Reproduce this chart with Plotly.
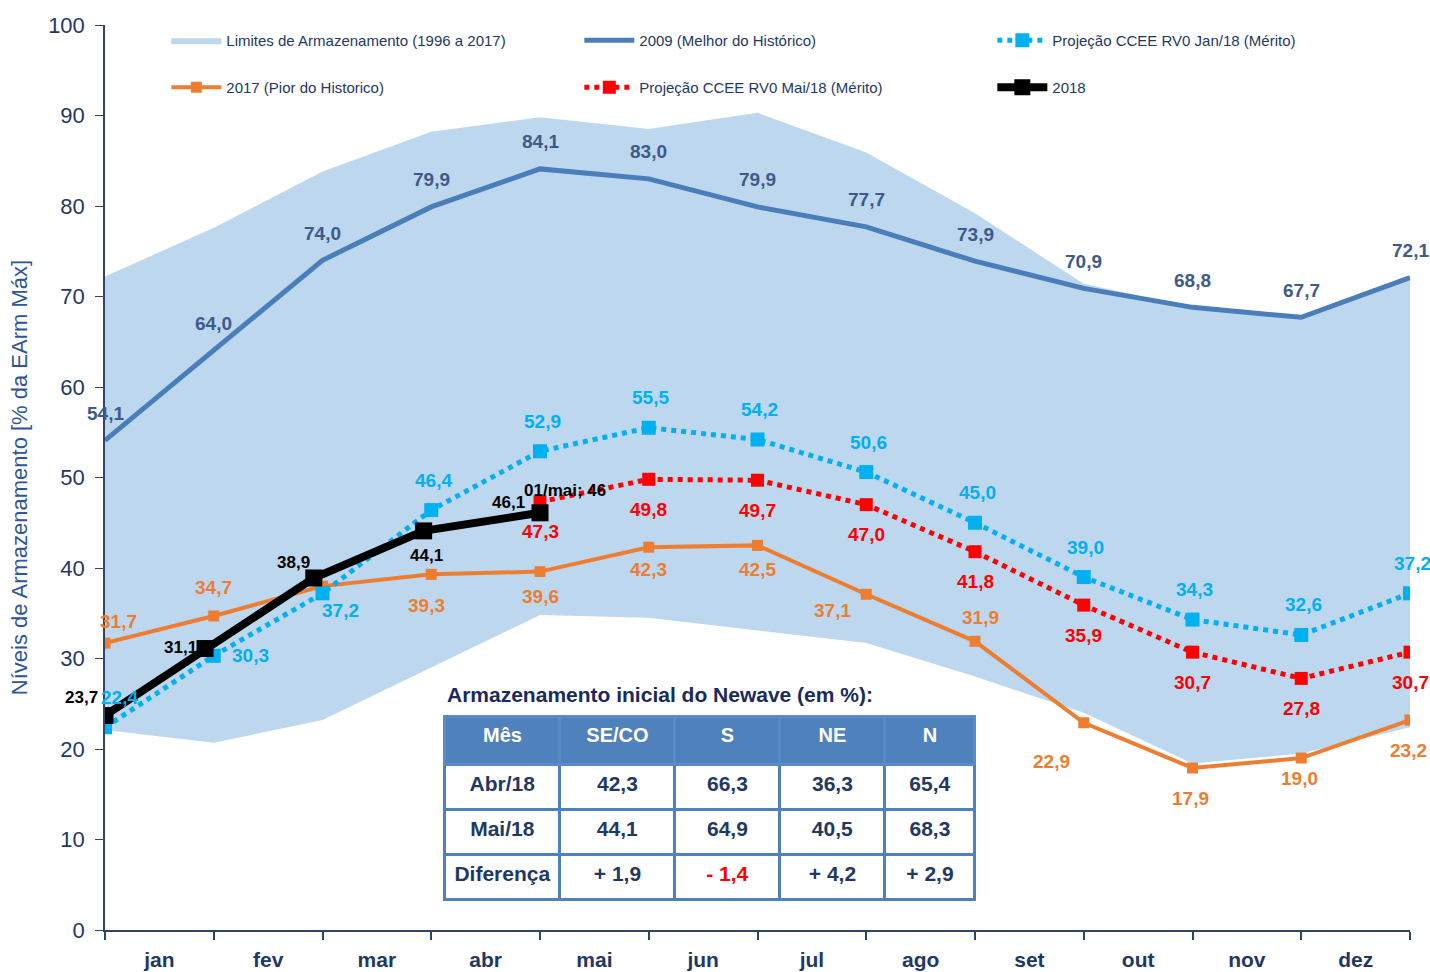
import plotly.graph_objects as go

months = ["jan", "fev", "mar", "abr", "mai", "jun", "jul", "ago", "set", "out", "nov", "dez"]
x_pts = list(range(13))

band_lower = [22.1, 20.7, 23.2, 29.0, 34.8, 34.5, 33.1, 31.7, 28.0, 24.0, 18.4, 19.5, 22.4]
band_upper = [72.2, 77.6, 83.8, 88.2, 89.8, 88.5, 90.3, 85.9, 79.2, 71.4, 68.8, 67.7, 72.1]

best_2009 = [54.1, 64.0, 74.0, 79.9, 84.1, 83.0, 79.9, 77.7, 73.9, 70.9, 68.8, 67.7, 72.1]
worst_2017 = [31.7, 34.7, 38.0, 39.3, 39.6, 42.3, 42.5, 37.1, 31.9, 22.9, 17.9, 19.0, 23.2]
proj_jan18 = [22.4, 30.3, 37.2, 46.4, 52.9, 55.5, 54.2, 50.6, 45.0, 39.0, 34.3, 32.6, 37.2]
proj_mai18_x = [4, 5, 6, 7, 8, 9, 10, 11, 12]
proj_mai18 = [47.3, 49.8, 49.7, 47.0, 41.8, 35.9, 30.7, 27.8, 30.7]
y2018_x = [0, 0.92, 1.92, 2.93, 4.0]
y2018 = [23.7, 31.1, 38.9, 44.1, 46.1]
y2018_last_label = "01/mai; 46"

tbl_header = ["Mês", "SE/CO", "S", "NE", "N"]
tbl_mes = ["Abr/18", "Mai/18", "Diferença"]
tbl_seco = ["42,3", "44,1", "+ 1,9"]
tbl_s = ["66,3", "64,9", "- 1,4"]
tbl_ne = ["36,3", "40,5", "+ 4,2"]
tbl_n = ["65,4", "68,3", "+ 2,9"]

FONT = "Liberation Sans Narrow, Arial Narrow, Liberation Sans, sans-serif"
NAVY = "#1F3864"
BLUE09 = "#4A7EBB"
ORANGE = "#ED7D31"
CYAN = "#00B0F0"
RED = "#FF0000"


def fmt(v):
    return f"{v:.1f}".replace(".", ",")


fig = go.Figure()

# band
fig.add_trace(go.Scatter(x=x_pts, y=band_lower, mode="lines", line=dict(width=0),
                         showlegend=False, hoverinfo="skip"))
fig.add_trace(go.Scatter(x=x_pts, y=band_upper, mode="lines", line=dict(width=0),
                         fill="tonexty", fillcolor="#BDD7EE",
                         name="Limites de Armazenamento (1996 a 2017)", legend="legend"))

fig.add_trace(go.Scatter(x=x_pts, y=best_2009, mode="lines",
                         line=dict(color=BLUE09, width=5),
                         name="2009 (Melhor do Histórico)", legend="legend"))

fig.add_trace(go.Scatter(x=x_pts, y=worst_2017, mode="lines+markers",
                         line=dict(color=ORANGE, width=4),
                         marker=dict(symbol="square", size=11, color=ORANGE),
                         name="2017 (Pior do Historico)", legend="legend2"))

fig.add_trace(go.Scatter(x=x_pts, y=proj_jan18, mode="lines+markers",
                         line=dict(color=CYAN, width=5, dash="dot"),
                         marker=dict(symbol="square", size=14, color=CYAN),
                         name="Projeção CCEE RV0 Jan/18 (Mérito)", legend="legend"))

fig.add_trace(go.Scatter(x=proj_mai18_x, y=proj_mai18, mode="lines+markers",
                         line=dict(color=RED, width=5, dash="dot"),
                         marker=dict(symbol="square", size=13, color=RED),
                         name="Projeção CCEE RV0 Mai/18 (Mérito)", legend="legend2"))

fig.add_trace(go.Scatter(x=y2018_x, y=y2018, mode="lines+markers",
                         line=dict(color="black", width=8),
                         marker=dict(symbol="square", size=17, color="black"),
                         name="2018", legend="legend2"))


def add_labels(xs, ys, color, offsets, size=19, skip=()):
    for i, (xv, yv) in enumerate(zip(xs, ys)):
        if i in skip:
            continue
        dx, dy = offsets[i] if isinstance(offsets, list) else offsets
        fig.add_annotation(x=xv, y=yv, text=f"<b>{fmt(yv)}</b>", showarrow=False,
                           xshift=dx, yshift=dy,
                           font=dict(family=FONT, size=size, color=color))


add_labels(x_pts, best_2009, "#3D5A8A", (0, 27))
off17 = [(13, 22), (0, 28), (0, 0), (-5, -31), (0, -25), (0, -22), (0, -24), (-34, -16),
         (5, 24), (-32, -39), (-2, -30), (-2, -20), (-2, -30)]
add_labels(x_pts, worst_2017, ORANGE, off17, skip=(2,))
offj = [(14, 30), (37, 0), (18, -17)] + [(2, 30)] * 10
add_labels(x_pts, proj_jan18, CYAN, offj)
add_labels(proj_mai18_x, proj_mai18, RED, (0, -30))
off18 = [(-24, 18), (-25, 1), (-20, 15), (3, -25), (-32, 10)]
add_labels(y2018_x, y2018, "black", off18, size=17)

fig.add_annotation(x=y2018_x[-1], y=y2018[-1], text=f"<b>{y2018_last_label}</b>", showarrow=False,
                   xshift=25, yshift=22, font=dict(family=FONT, size=17, color="black"))

# table
cell_colors = [[NAVY] * 3, [NAVY] * 3, [NAVY, NAVY, RED], [NAVY] * 3, [NAVY] * 3]
fig.add_trace(go.Table(
    domain=dict(x=[0.2605, 0.6667], y=[0.028, 0.236]),
    columnwidth=[115, 115, 105, 105, 90],
    header=dict(values=[f"<b>{h}</b>" for h in tbl_header], fill_color="#4F81BD",
                line=dict(color="#5B8BC6", width=3), align="center", height=48,
                font=dict(family=FONT, size=20, color="white")),
    cells=dict(values=[[f"<b>{v}</b>" for v in col] for col in [tbl_mes, tbl_seco, tbl_s, tbl_ne, tbl_n]],
               fill_color="white", line=dict(color="#4F81BD", width=3), align="center", height=45,
               font=dict(family=FONT, size=21, color=cell_colors)),
))

fig.add_annotation(xref="paper", yref="paper", x=0.2605, y=0.2597, xanchor="left", yanchor="middle",
                   text="<b>Armazenamento inicial do Newave (em %):</b>", showarrow=False,
                   font=dict(family=FONT, size=21, color="#1A2A5C"))

leg_common = dict(orientation="h", x=0.047, xanchor="left", yanchor="middle",
                  entrywidth=348, entrywidthmode="pixels", itemwidth=50, traceorder="normal",
                  font=dict(family=FONT, size=15, color=NAVY), bgcolor="rgba(0,0,0,0)")

fig.update_layout(
    width=1430, height=972,
    margin=dict(l=105, r=20, t=25, b=42),
    paper_bgcolor="white", plot_bgcolor="white",
    font=dict(family=FONT, color=NAVY),
    legend=dict(y=0.983, **leg_common),
    legend2=dict(y=0.931, **leg_common),
    xaxis=dict(range=[0, 12], tickmode="array", tickvals=[i + 0.5 for i in range(12)],
               ticktext=[f"<b>{m}</b>" for m in months], ticks="", showgrid=False, zeroline=False,
               showline=True, linecolor="#2F4468", linewidth=2, ticklabelstandoff=10,
               automargin=False,
               tickfont=dict(family=FONT, size=21, color=NAVY),
               minor=dict(tickmode="array", tickvals=x_pts, ticks="outside", ticklen=8,
                          tickcolor="#2F4468", tickwidth=1.5, showgrid=False)),
    yaxis=dict(range=[0, 100], tickmode="array", tickvals=list(range(0, 101, 10)),
               ticks="outside", ticklen=8, tickcolor="#2F4468", showgrid=False, zeroline=False,
               showline=True, linecolor="#2F4468", linewidth=1.5, ticklabelstandoff=6,
               automargin=False,
               tickfont=dict(family=FONT, size=22, color=NAVY),
               title=dict(text="Níveis de Armazenamento [% da EArm Máx]", standoff=14,
                          font=dict(family=FONT, size=22, color="#2E5597"))),
)

fig.write_html("out.html")
